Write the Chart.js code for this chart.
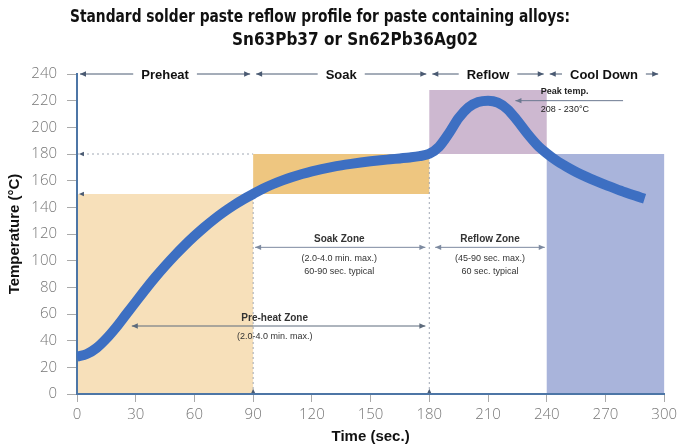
<!DOCTYPE html>
<html>
<head>
<meta charset="utf-8">
<script src="https://cdn.jsdelivr.net/npm/chart.js@4.4.1/dist/chart.umd.min.js"></script>
<style>
  html, body { margin: 0; padding: 0; background: #fff; }
</style>
</head>
<body>
<canvas id="myChart" width="681" height="448"></canvas>
<script>
const titleLines = ['Standard solder paste reflow profile for paste containing alloys:', 'Sn63Pb37 or Sn62Pb36Ag02'];

// the reflow curve, every 5 sec (°C)
const timeSec = [0, 5, 10, 15, 20, 25, 30, 35, 40, 45, 50, 55, 60, 65, 70, 75, 80, 85, 90, 95,
    100, 105, 110, 115, 120, 125, 130, 135, 140, 145, 150, 155, 160, 165, 170, 175, 180, 185, 190, 195,
    200, 205, 210, 215, 220, 225, 230, 235, 240, 245, 250, 255, 260, 265, 270, 275, 280, 285, 290];
const tempC = [28, 30, 34.5, 41.5, 50, 59.5, 69, 78.5, 87.5, 96, 104, 111.5, 118.5, 125, 131, 136.5, 141.5, 146, 150, 154,
    157.3, 160.2, 162.8, 165, 167, 168.7, 170.2, 171.5, 172.6, 173.6, 174.5, 175.3, 176, 176.7, 177.4, 178.4, 180.2, 185.5, 195.5, 207,
    215, 219, 220, 218.5, 213.5, 205, 195.5, 187, 180.5, 175, 170.5, 166.5, 163, 159.8, 156.8, 154, 151.3, 148.8, 146.5];

// phases along the top and their shaded boxes
const phaseNames = ['Preheat', 'Soak', 'Reflow', 'Cool Down'];
const phaseStart = [0, 90, 180, 240];
const phaseEnd = [90, 180, 240, 300];
const boxLow = [0, 150, 180, 0];
const boxHigh = [150, 180, 228, 180];
const boxColors = ['#f7e0ba', '#eec680', '#cdb8d0', '#a9b4db'];

// zone notes: name, detail lines, and the span of the double arrow
const zoneNames = ['Soak Zone', 'Reflow Zone', 'Pre-heat Zone'];
const zoneDetails = [['(2.0-4.0 min. max.)', '60-90 sec. typical'], ['(45-90 sec. max.)', '60 sec. typical'], ['(2.0-4.0 min. max.)']];
const zoneTextX = [134, 211, 101];
const zoneArrowFrom = [91, 183, 28];
const zoneArrowTo = [178, 239, 178];
const zoneArrowY = [110, 110, 51];

const peakLabel = ['Peak temp.', '208 - 230°C'];

const xMin = 0, xMax = 300, xStep = 30;
const yMin = 0, yMax = 240, yStep = 20;

const lineColor = '#4a5a72';

function head(ctx, x, y, dir, size) {
    // small filled arrow head pointing along dir (radians)
    ctx.save();
    ctx.translate(x, y);
    ctx.rotate(dir);
    ctx.beginPath();
    ctx.moveTo(0, 0);
    ctx.lineTo(-size, -size * 0.45);
    ctx.lineTo(-size, size * 0.45);
    ctx.closePath();
    ctx.fill();
    ctx.restore();
}

function hArrow(ctx, x1, x2, y, both) {
    ctx.beginPath();
    ctx.moveTo(x1, y);
    ctx.lineTo(x2, y);
    ctx.stroke();
    head(ctx, x1, y, Math.PI, 6);
    if (both) head(ctx, x2, y, 0, 6);
}

const reflowArt = {
    id: 'reflowArt',
    beforeDraw(chart) {
        const { ctx } = chart;
        const xs = chart.scales.x, ys = chart.scales.y;

        // title, two lines in a condensed bold face
        ctx.save();
        ctx.fillStyle = '#111';
        ctx.textAlign = 'center';
        ctx.textBaseline = 'middle';
        ctx.font = 'bold 18px "DejaVu Sans Condensed", "DejaVu Sans"';
        const tCx = [320, 355], tY = [17, 40], tW = [500, 246];
        titleLines.forEach((t, i) => {
            const sx = Math.min(1, tW[i] / ctx.measureText(t).width);
            ctx.save();
            ctx.translate(tCx[i], tY[i]);
            ctx.scale(sx, 1);
            ctx.fillText(t, 0, 0);
            ctx.restore();
        });
        ctx.restore();

        // shaded boxes
        ctx.save();
        phaseStart.forEach((s, i) => {
            const x1 = xs.getPixelForValue(s), x2 = xs.getPixelForValue(phaseEnd[i]);
            const y1 = ys.getPixelForValue(boxHigh[i]), y2 = ys.getPixelForValue(boxLow[i]);
            ctx.fillStyle = boxColors[i];
            ctx.fillRect(x1, y1, x2 - x1, y2 - y1);
        });

        // dotted guides
        ctx.strokeStyle = '#a0a8b4';
        ctx.lineWidth = 1;
        ctx.setLineDash([2, 3]);
        ctx.beginPath();
        ctx.moveTo(xs.getPixelForValue(0), ys.getPixelForValue(180));
        ctx.lineTo(xs.getPixelForValue(90), ys.getPixelForValue(180));
        [90, 180].forEach(v => {
            ctx.moveTo(xs.getPixelForValue(v), ys.getPixelForValue(0));
            ctx.lineTo(xs.getPixelForValue(v), ys.getPixelForValue(v === 90 ? 150 : 180));
        });
        ctx.stroke();
        ctx.setLineDash([]);
        ctx.fillStyle = lineColor;
        head(ctx, xs.getPixelForValue(1), ys.getPixelForValue(180), Math.PI, 5);
        head(ctx, xs.getPixelForValue(1), ys.getPixelForValue(150), Math.PI, 5);
        [90, 180].forEach(v => head(ctx, xs.getPixelForValue(v), ys.getPixelForValue(4), -Math.PI / 2, 5));
        ctx.restore();
    },
    afterDatasetsDraw(chart) {
        const { ctx } = chart;
        const xs = chart.scales.x, ys = chart.scales.y;
        ctx.save();
        ctx.strokeStyle = lineColor;
        ctx.fillStyle = lineColor;
        ctx.lineWidth = 1;
        ctx.textBaseline = 'middle';

        // phase arrows along the top
        const topY = ys.getPixelForValue(240);
        ctx.font = 'bold 13px "Liberation Sans", Arial';
        phaseNames.forEach((name, i) => {
            const x1 = xs.getPixelForValue(phaseStart[i]) + 3;
            const x2 = xs.getPixelForValue(phaseEnd[i]) - (i === 3 ? 6 : 3);
            const cx = (x1 + x2) / 2;
            const w = ctx.measureText(name).width / 2 + 8;
            ctx.strokeStyle = lineColor;
            ctx.fillStyle = lineColor;
            hArrow(ctx, x1, cx - w, topY, false);
            ctx.beginPath();
            ctx.moveTo(cx + w, topY);
            ctx.lineTo(x2, topY);
            ctx.stroke();
            head(ctx, x2, topY, 0, 6);
            ctx.fillStyle = '#111';
            ctx.textAlign = 'center';
            ctx.fillText(name, cx, topY + 1);
        });

        // zone notes
        zoneNames.forEach((name, i) => {
            const ay = ys.getPixelForValue(zoneArrowY[i]);
            ctx.strokeStyle = i === 2 ? '#5d6b7c' : '#7d8aa0';
            ctx.fillStyle = ctx.strokeStyle;
            hArrow(ctx, xs.getPixelForValue(zoneArrowFrom[i]), xs.getPixelForValue(zoneArrowTo[i]), ay, true);
            const cx = xs.getPixelForValue(zoneTextX[i]);
            ctx.fillStyle = '#333';
            ctx.textAlign = 'center';
            ctx.font = 'bold 10px "Liberation Sans", Arial';
            ctx.fillText(name, cx, ay - 8);
            ctx.font = '9px "Liberation Sans", Arial';
            zoneDetails[i].forEach((t, j) => ctx.fillText(t, cx, ay + 11 + j * 13));
        });

        // peak temperature callout
        const py = ys.getPixelForValue(220);
        ctx.strokeStyle = '#6b7890';
        ctx.fillStyle = '#6b7890';
        hArrow(ctx, xs.getPixelForValue(224), xs.getPixelForValue(279), py, false);
        ctx.fillStyle = '#222';
        ctx.textAlign = 'left';
        ctx.font = 'bold 9px "Liberation Sans", Arial';
        ctx.fillText(peakLabel[0], xs.getPixelForValue(237), py - 9);
        ctx.font = '9px "Liberation Sans", Arial';
        ctx.fillText(peakLabel[1], xs.getPixelForValue(237), py + 9);
        ctx.restore();
    }
};

const tickFont = { family: '"Open Sans", "Liberation Sans", sans-serif', size: 15, weight: 300 };
const axisTitleFont = { family: '"Liberation Sans", Arial', size: 15, weight: 'bold' };

const grapharea = document.getElementById('myChart');
new Chart(grapharea, {
    type: 'line',
    data: {
        datasets: [{
            data: timeSec.map((t, i) => ({ x: t, y: tempC[i] })),
            borderColor: '#3d6fc2',
            borderWidth: 10,
            pointRadius: 0,
            cubicInterpolationMode: 'monotone',
            borderJoinStyle: 'round',
            fill: false
        }]
    },
    options: {
        responsive: false,
        animation: false,
        layout: { padding: { top: 74, right: 14, left: 0, bottom: 0 } },
        plugins: {
            legend: { display: false },
            tooltip: { enabled: false }
        },
        scales: {
            x: {
                type: 'linear',
                min: xMin,
                max: xMax,
                ticks: { stepSize: xStep, color: '#777', font: tickFont, padding: 4 },
                grid: { drawOnChartArea: false, tickLength: 8, tickColor: '#aaa' },
                border: { color: '#4d76a6', width: 2 },
                title: { display: true, text: 'Time (sec.)', color: '#111', font: axisTitleFont, padding: { top: 0, bottom: 2 } },
                afterFit: s => { s.height = 54; }
            },
            y: {
                min: yMin,
                max: yMax,
                ticks: { stepSize: yStep, color: '#777', font: tickFont, padding: 10 },
                grid: { drawOnChartArea: false, tickLength: 10, tickColor: '#aaa' },
                border: { color: '#4d76a6', width: 2 },
                title: { display: true, text: 'Temperature (°C)', color: '#111', font: axisTitleFont, padding: { top: 6, bottom: 0 } },
                afterFit: s => { s.width = 77; }
            }
        }
    },
    plugins: [reflowArt]
});
</script>
</body>
</html>
